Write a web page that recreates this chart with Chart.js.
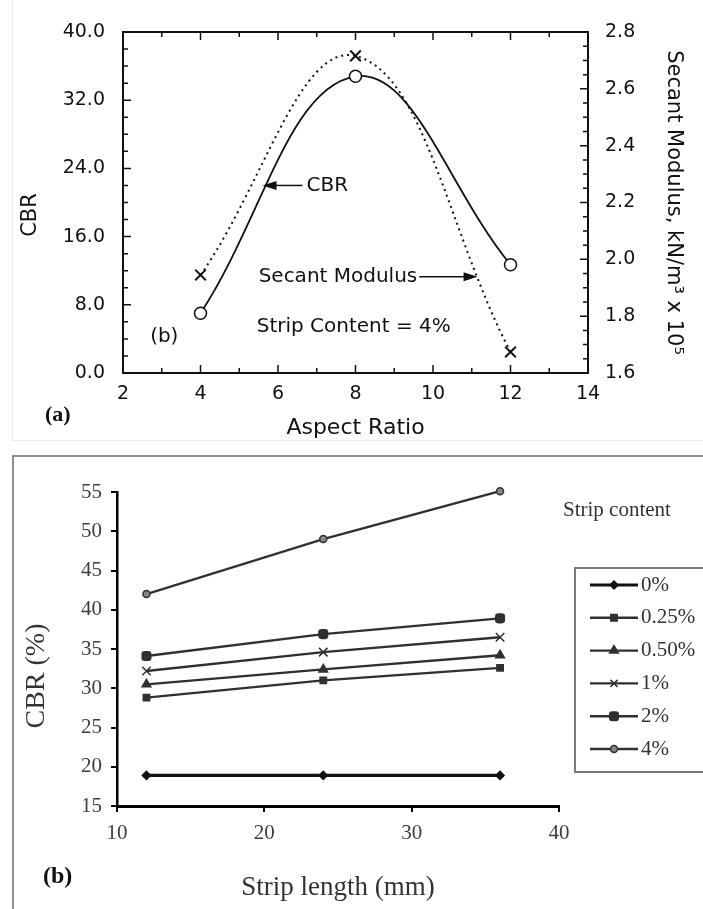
<!DOCTYPE html>
<html>
<head>
<meta charset="utf-8">
<script src="https://cdn.jsdelivr.net/npm/chart.js@4.4.1/dist/chart.umd.min.js"></script>
<style>
  html, body { margin: 0; padding: 0; background: #fff; }
  body { width: 703px; height: 909px; position: relative; overflow: hidden; }
  #topWrap { position: absolute; left: 0; top: 0; width: 703px; height: 445px; }
  #botWrap { position: absolute; left: 0; top: 445px; width: 703px; height: 464px; }
  .faint { position: absolute; left: 12px; top: 0; width: 700px; height: 440px;
           border-left: 1px solid #ececec; border-bottom: 1px solid #ececec; }
  .boxB { position: absolute; left: 12px; top: 455px; width: 720px; height: 480px;
          border: 2px solid #8e8e8e; }
</style>
</head>
<body>
<div class="faint"></div>
<div class="boxB"></div>
<div id="topWrap"><canvas id="aspectChart"></canvas></div>
<div id="botWrap"><canvas id="stripChart"></canvas></div>
<script>
// (a) CBR and secant modulus vs aspect ratio, strip content 4%
const aspectRatio = [4, 8, 12];
const cbrByAspect = [7.0, 34.8, 12.7];
const secantModulus = [1.945, 2.716, 1.674];

// (b) CBR vs strip length for each strip content
const stripLength = [12, 24, 36];
const stripContent = ['0%', '0.25%', '0.50%', '1%', '2%', '4%'];
const cbr0 = [18.9, 18.9, 18.9];
const cbr025 = [28.8, 31.0, 32.6];
const cbr050 = [30.5, 32.4, 34.2];
const cbr1 = [32.2, 34.6, 36.5];
const cbr2 = [34.1, 36.9, 38.9];
const cbr4 = [42.0, 49.0, 55.1];

function toXY(xs, ys) {
  return xs.map((x, i) => ({ x: x, y: ys[i] }));
}

function arrow(ctx, x1, x2, y) {
  // tip at x2
  const dir = Math.sign(x2 - x1);
  ctx.beginPath();
  ctx.moveTo(x1, y);
  ctx.lineTo(x2 - dir * 10, y);
  ctx.stroke();
  ctx.beginPath();
  ctx.moveTo(x2, y);
  ctx.lineTo(x2 - dir * 14, y - 4.5);
  ctx.lineTo(x2 - dir * 14, y + 4.5);
  ctx.closePath();
  ctx.fill();
}

function vText(ctx, text, x, y, rot) {
  ctx.save();
  ctx.translate(x, y);
  ctx.rotate(rot);
  ctx.textAlign = 'center';
  ctx.textBaseline = 'middle';
  ctx.fillText(text, 0, 0);
  ctx.restore();
}

const SANS = '"DejaVu Sans"';
const SERIF = '"Liberation Serif"';
const INK = '#111';

// box + inward ticks like the original plot
const insideTicks = {
  id: 'insideTicks',
  afterDraw(chart) {
    const { ctx, chartArea: a, scales } = chart;
    ctx.save();
    ctx.strokeStyle = INK;
    ctx.lineWidth = 2;
    ctx.strokeRect(a.left, a.top, a.right - a.left, a.bottom - a.top);
    ctx.lineWidth = 1.5;
    ctx.beginPath();
    for (let i = 0; i <= 12; i++) {
      const v = 2 + i;
      const px = scales.x.getPixelForValue(v);
      const len = v % 2 === 0 ? 8 : 5;
      ctx.moveTo(px, a.bottom); ctx.lineTo(px, a.bottom - len);
      ctx.moveTo(px, a.top); ctx.lineTo(px, a.top + len);
    }
    for (let i = 0; i <= 20; i++) {
      const py = scales.y.getPixelForValue(i * 2);
      const len = i % 4 === 0 ? 8 : 5;
      ctx.moveTo(a.left, py); ctx.lineTo(a.left + len, py);
    }
    for (let i = 0; i <= 24; i++) {
      const py = scales.y1.getPixelForValue(1.6 + i * 0.05);
      const len = i % 4 === 0 ? 8 : 5;
      ctx.moveTo(a.right, py); ctx.lineTo(a.right - len, py);
    }
    ctx.stroke();
    ctx.restore();
  }
};

const topNotes = {
  id: 'topNotes',
  afterDraw(chart) {
    const { ctx } = chart;
    const x = chart.scales.x, y = chart.scales.y;
    ctx.save();
    ctx.fillStyle = INK;
    ctx.strokeStyle = INK;
    ctx.lineWidth = 1.5;
    ctx.textBaseline = 'middle';
    ctx.textAlign = 'left';
    ctx.font = '20px ' + SANS;
    const tx = x.getPixelForValue(5.6), ty = y.getPixelForValue(22.0);
    arrow(ctx, tx + 40, tx, ty);
    ctx.fillText('CBR', tx + 44, ty);
    const sx = x.getPixelForValue(5.5), sy = y.getPixelForValue(11.3);
    ctx.fillText('Secant Modulus', sx, sy);
    const w = ctx.measureText('Secant Modulus').width;
    arrow(ctx, sx + w + 2, x.getPixelForValue(11.15), sy);
    ctx.fillText('Strip Content = 4%', x.getPixelForValue(5.45), y.getPixelForValue(5.4));
    ctx.fillText('(b)', x.getPixelForValue(2.7), y.getPixelForValue(4.2));
    ctx.font = '21px ' + SANS;
    vText(ctx, 'CBR', 31, 215, -Math.PI / 2);
    ctx.font = 'bold 22px ' + SERIF;
    ctx.fillText('(a)', 45, 415);
    ctx.restore();
  }
};

const aspectChart = new Chart(document.getElementById('aspectChart'), {
  type: 'line',
  data: {
    datasets: [
      {
        label: 'CBR',
        data: toXY(aspectRatio, cbrByAspect),
        yAxisID: 'y',
        borderColor: INK,
        borderWidth: 1.8,
        tension: 0.4,
        pointStyle: 'circle',
        pointRadius: 6,
        pointBackgroundColor: '#fff',
        pointBorderColor: INK,
        pointBorderWidth: 1.5
      },
      {
        label: 'Secant Modulus',
        data: toXY(aspectRatio, secantModulus),
        yAxisID: 'y1',
        borderColor: INK,
        borderWidth: 2,
        borderDash: [2, 4],
        tension: 0.4,
        pointStyle: 'crossRot',
        pointRadius: 7.5,
        pointBorderColor: INK,
        pointBorderWidth: 2
      }
    ]
  },
  options: {
    responsive: true,
    maintainAspectRatio: false,
    animation: false,
    layout: { padding: { top: 32, left: 0, right: 0, bottom: 0 } },
    plugins: { legend: { display: false }, tooltip: { enabled: false } },
    scales: {
      x: {
        type: 'linear',
        min: 2, max: 14,
        grid: { display: false, drawTicks: false },
        border: { display: false },
        ticks: { stepSize: 2, padding: 10, color: INK, font: { family: SANS, size: 19 } },
        title: { display: true, text: 'Aspect Ratio', color: INK,
                 font: { family: SANS, size: 22 }, padding: { top: 0, bottom: 4 } },
        afterFit(s) { s.height = 72; }
      },
      y: {
        position: 'left',
        min: 0, max: 40,
        grid: { display: false, drawTicks: false },
        border: { display: false },
        ticks: { stepSize: 8, padding: 18, color: INK, font: { family: SANS, size: 19 },
                 callback: v => v.toFixed(1) },
        afterFit(s) { s.width = 123; }
      },
      y1: {
        position: 'right',
        min: 1.6, max: 2.8,
        grid: { display: false, drawTicks: false },
        border: { display: false },
        ticks: { stepSize: 0.2, padding: 17, color: INK, font: { family: SANS, size: 19 },
                 callback: v => v.toFixed(1) },
        title: { display: true, text: 'Secant Modulus, kN/m³ x 10⁵', color: INK,
                 font: { family: SANS, size: 21 }, padding: { top: 17, bottom: 0 } },
        afterFit(s) { s.width = 115; }
      }
    }
  },
  plugins: [insideTicks, topNotes]
});

// ---- (b) strip length chart ----
const LINE = '#303030';
const stripSeries = [
  { data: cbr0, pointStyle: 'rectRot', pointRadius: 4, borderWidth: 3.2, color: '#111', fill: '#111' },
  { data: cbr025, pointStyle: 'rect', pointRadius: 4.5, borderWidth: 2.4, color: LINE, fill: LINE },
  { data: cbr050, pointStyle: 'triangle', pointRadius: 5, borderWidth: 2.4, color: LINE, fill: LINE },
  { data: cbr1, pointStyle: 'crossRot', pointRadius: 6, borderWidth: 2.4, color: LINE, fill: LINE },
  { data: cbr2, pointStyle: 'rectRounded', pointRadius: 5, borderWidth: 2.4, color: LINE, fill: LINE },
  { data: cbr4, pointStyle: 'circle', pointRadius: 3.5, borderWidth: 2.4, color: LINE, fill: '#888' }
];

const stripNotes = {
  id: 'stripNotes',
  afterDraw(chart) {
    const { ctx } = chart;
    ctx.save();
    ctx.textBaseline = 'middle';
    ctx.textAlign = 'left';
    ctx.fillStyle = '#333';
    ctx.font = '21px ' + SERIF;
    ctx.fillText('Strip content', 563, 65);
    // legend box
    ctx.strokeStyle = '#7a7a7a';
    ctx.lineWidth = 2;
    ctx.strokeRect(575, 123, 140, 204);
    chart.data.datasets.forEach((ds, i) => {
      const yy = 140 + i * 32.8;
      ctx.strokeStyle = ds.borderColor;
      ctx.fillStyle = ds.pointBackgroundColor;
      ctx.lineWidth = ds.borderWidth;
      ctx.beginPath();
      ctx.moveTo(590, yy);
      ctx.lineTo(638, yy);
      ctx.stroke();
      ctx.lineWidth = 1.5;
      Chart.helpers.drawPoint(ctx, { pointStyle: ds.pointStyle, radius: Math.min(ds.pointRadius, 5),
                                     rotation: 0, borderWidth: 1.5 }, 614, yy);
      ctx.fillStyle = '#333';
      ctx.fillText(ds.label, 641, yy);
    });
    ctx.font = '28px ' + SERIF;
    vText(ctx, 'CBR (%)', 37, 231, -Math.PI / 2);
    ctx.font = 'bold 24px ' + SERIF;
    ctx.fillStyle = '#111';
    ctx.fillText('(b)', 43, 432);
    ctx.restore();
  }
};

const stripChart = new Chart(document.getElementById('stripChart'), {
  type: 'line',
  data: {
    datasets: stripSeries.map((s, i) => ({
      label: stripContent[i],
      data: toXY(stripLength, s.data),
      borderColor: s.color,
      backgroundColor: s.color,
      borderWidth: s.borderWidth,
      pointStyle: s.pointStyle,
      pointRadius: s.pointRadius,
      pointBackgroundColor: s.fill,
      pointBorderColor: s.color,
      pointBorderWidth: 1.5,
      tension: 0,
      clip: false
    }))
  },
  options: {
    responsive: true,
    maintainAspectRatio: false,
    animation: false,
    layout: { padding: { top: 47, right: 144, left: 0, bottom: 0 } },
    plugins: { legend: { display: false }, tooltip: { enabled: false } },
    scales: {
      x: {
        type: 'linear',
        min: 10, max: 40,
        grid: { drawOnChartArea: false, drawTicks: true, tickLength: 6, color: '#000', lineWidth: 2 },
        border: { color: '#000', width: 3 },
        ticks: { stepSize: 10, padding: 9, color: '#3c3c46', font: { family: SERIF, size: 21 } },
        title: { display: true, text: 'Strip length (mm)', color: '#333',
                 font: { family: SERIF, size: 27 }, padding: { top: 0, bottom: 5 } },
        afterFit(s) { s.height = 103; }
      },
      y: {
        min: 15, max: 55,
        grid: { drawOnChartArea: false, drawTicks: true, tickLength: 6, color: '#000', lineWidth: 2 },
        border: { color: '#000', width: 2.5 },
        ticks: { stepSize: 5, padding: 9, color: '#3c3c46', font: { family: SERIF, size: 21 } },
        afterFit(s) { s.width = 117; }
      }
    }
  },
  plugins: [stripNotes]
});
</script>
</body>
</html>
